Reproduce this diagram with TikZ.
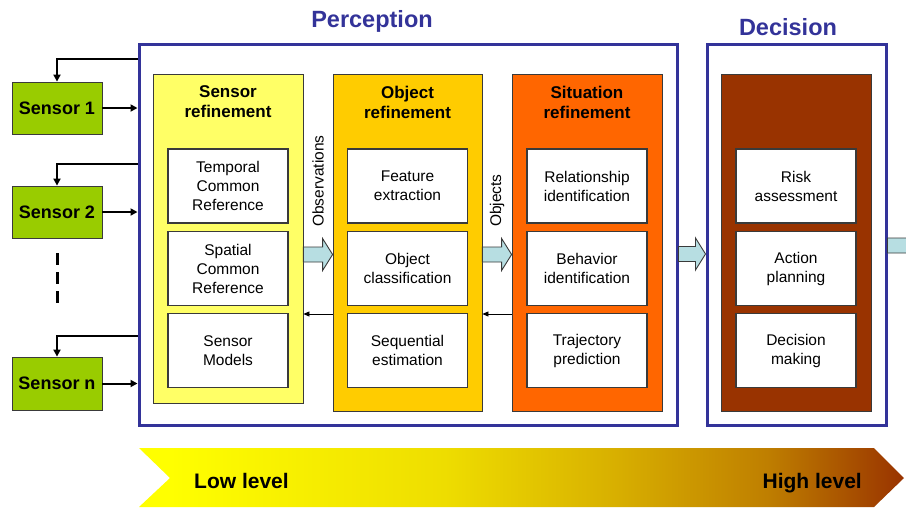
\documentclass[tikz,border=0pt]{standalone}
\usepackage{fontspec}
\setmainfont{Liberation Sans}
\usetikzlibrary{calc,arrows.meta}
\definecolor{pblue}{HTML}{333399}
\definecolor{sgreen}{HTML}{99CC00}
\definecolor{ryellow}{HTML}{FFFF66}
\definecolor{rgold}{HTML}{FFCC00}
\definecolor{rorange}{HTML}{FF6600}
\definecolor{rbrown}{HTML}{993300}
\definecolor{acyan}{HTML}{B7DEE2}
\definecolor{edgegray}{HTML}{3A3A3A}
\definecolor{gA}{HTML}{FFFF00}
\definecolor{gB}{HTML}{EEDD00}
\definecolor{gC}{HTML}{D8B000}
\definecolor{gD}{HTML}{BF7F00}
\definecolor{gE}{HTML}{993300}
\pgfdeclarehorizontalshading{lowhigh}{100bp}{color(0bp)=(gA); color(27bp)=(gA); color(45bp)=(gB); color(56bp)=(gC); color(66bp)=(gD); color(75bp)=(gE); color(100bp)=(gE)}
\begin{document}
\begin{tikzpicture}[x=1pt,y=-1pt,
  ptitle/.style={text=pblue,font=\bfseries\fontsize{23.5}{26}\selectfont,inner sep=0pt},
  pbox/.style={draw=pblue,line width=3pt,minimum width=#1,minimum height=381pt,inner sep=0pt},
  sensorbox/.style={draw=edgegray,line width=0.8pt,fill=sgreen,minimum width=90pt,minimum height=52pt,inner sep=0pt,font=\bfseries\fontsize{18}{21}\selectfont},
  refbox/.style={draw=edgegray,line width=0.8pt,fill=#1,minimum width=150pt,minimum height=337pt,inner sep=0pt},
  reftitle/.style={align=center,inner sep=0pt,font=\bfseries\fontsize{17}{20}\selectfont},
  inbox/.style={draw=edgegray,line width=1.2pt,fill=white,minimum width=120pt,minimum height=74pt,inner sep=0pt,align=center,font=\fontsize{15.5}{19}\selectfont},
  rlabel/.style={rotate=90,anchor=west,inner sep=0pt,font=\fontsize{15.5}{19}\selectfont},
  sarrow/.style={line width=2pt,-{Triangle[length=7pt,width=7pt]}},
  thinarrow/.style={line width=0.8pt,-{Triangle[length=6pt,width=5pt]}},
  barrow/.style={draw=edgegray,line width=0.9pt,fill=acyan,line join=miter},
  levtext/.style={inner sep=0pt,font=\bfseries\fontsize{21}{24}\selectfont}
]
\useasboundingbox (0,0) rectangle (906,507);
\clip (0,0) rectangle (906,507);

% titles
\node[ptitle] (ptit) at (372,21) {Perception};
\node[ptitle] (dtit) at (788,27) {Decision};

% big frames
\node[pbox=538pt] (perc) at (408,234.5) {};
\node[pbox=179pt] (dec) at (796.5,234.5) {};

% refinement boxes
\node[refbox=ryellow,minimum height=329pt] (sensR) at (228,238.5) {};
\node[refbox=rgold,minimum width=149pt] (objR) at (407.5,242.5) {};
\node[refbox=rorange] (sitR) at (587,242.5) {};
\node[refbox=rbrown] (decR) at (796,242.5) {};

\node[reftitle] (sensT) at (228,102) {Sensor\\refinement};
\node[reftitle] (objT) at (407.5,102) {Object\\refinement};
\node[reftitle] (sitT) at (587,102) {Situation\\refinement};

% inner boxes
\node[inbox] (tcr) at (228,186) {Temporal\\Common\\Reference};
\node[inbox] (scr) at (228,268.5) {Spatial\\Common\\Reference};
\node[inbox] (sm) at (228,350.5) {Sensor\\Models};
\node[inbox] (fe) at (407.5,186) {Feature\\extraction};
\node[inbox] (oc) at (407.5,268.5) {Object\\classification};
\node[inbox] (se) at (407.5,350.5) {Sequential\\estimation};
\node[inbox] (ri) at (587,186) {Relationship\\identification};
\node[inbox] (bi) at (587,268.5) {Behavior\\identification};
\node[inbox] (tp) at (587,350.5) {Trajectory\\prediction};
\node[inbox] (ra) at (796,186) {Risk\\assessment};
\node[inbox] (ap) at (796,268.5) {Action\\planning};
\node[inbox] (dm) at (796,350.5) {Decision\\making};

% rotated labels
\node[rlabel] (obs) at (318,227) {Observations};
\node[rlabel] (objs) at (497,227) {Objects};

% sensors
\node[sensorbox] (sen1) at (57,108) {Sensor 1};
\node[sensorbox] (sen2) at (57,212) {Sensor 2};
\node[sensorbox,minimum height=53pt] (senn) at (57,383.5) {Sensor n};

\draw[sarrow] (sen1.east) -- (sen1.east -| perc.west);
\draw[sarrow] (sen2.east) -- (sen2.east -| perc.west);
\draw[sarrow] (senn.east) -- (senn.east -| perc.west);

\coordinate (fb1) at (perc.west |- 0,59);
\coordinate (fb2) at (perc.west |- 0,164);
\coordinate (fbn) at (perc.west |- 0,336);
\draw[sarrow] (fb1) -| (sen1.north);
\draw[sarrow] (fb2) -| (sen2.north);
\draw[sarrow] (fbn) -| (senn.north);

\coordinate (dash1) at (57,253);
\coordinate (dash2) at (57,307);
\draw[line width=3pt,dash pattern=on 12pt off 7pt] (dash1) -- (dash2);

% thin feedback arrows
\draw[thinarrow] (objR.west |- 0,314) -- (sensR.east |- 0,314);
\draw[thinarrow] (sitR.west |- 0,314) -- (objR.east |- 0,314);

% block arrows
\coordinate (a1s) at (sensR.east |- 0,254.5);
\coordinate (a1e) at (objR.west |- 0,254.5);
\coordinate (a2s) at (objR.east |- 0,254.5);
\coordinate (a2e) at (sitR.west |- 0,254.5);
\coordinate (a3s) at (perc.east |- 0,254);
\coordinate (a3e) at (dec.west |- 0,254);
\coordinate (a4s) at (dec.east |- 0,245.5);
\coordinate (a4e) at (930,245.5);
\foreach \s/\e in {a1s/a1e,a2s/a2e,a3s/a3e,a4s/a4e}{
  \draw[barrow] ($(\s)+(0,-7.5)$) -- ($(\e)+(-10,-7.5)$) -- ($(\e)+(-10,-16)$) -- (\e)
    -- ($(\e)+(-10,16)$) -- ($(\e)+(-10,7.5)$) -- ($(\s)+(0,7.5)$) -- cycle;
}

% level arrow
\path[shading=lowhigh] (139,448) -- (874,448) -- (904,478) -- (874,507) -- (139,507) -- (170,478) -- cycle;
\node[levtext,anchor=base west] (low) at (194,488) {Low level};
\node[levtext,anchor=base east] (high) at (862,488) {High level};
\end{tikzpicture}
\end{document}
